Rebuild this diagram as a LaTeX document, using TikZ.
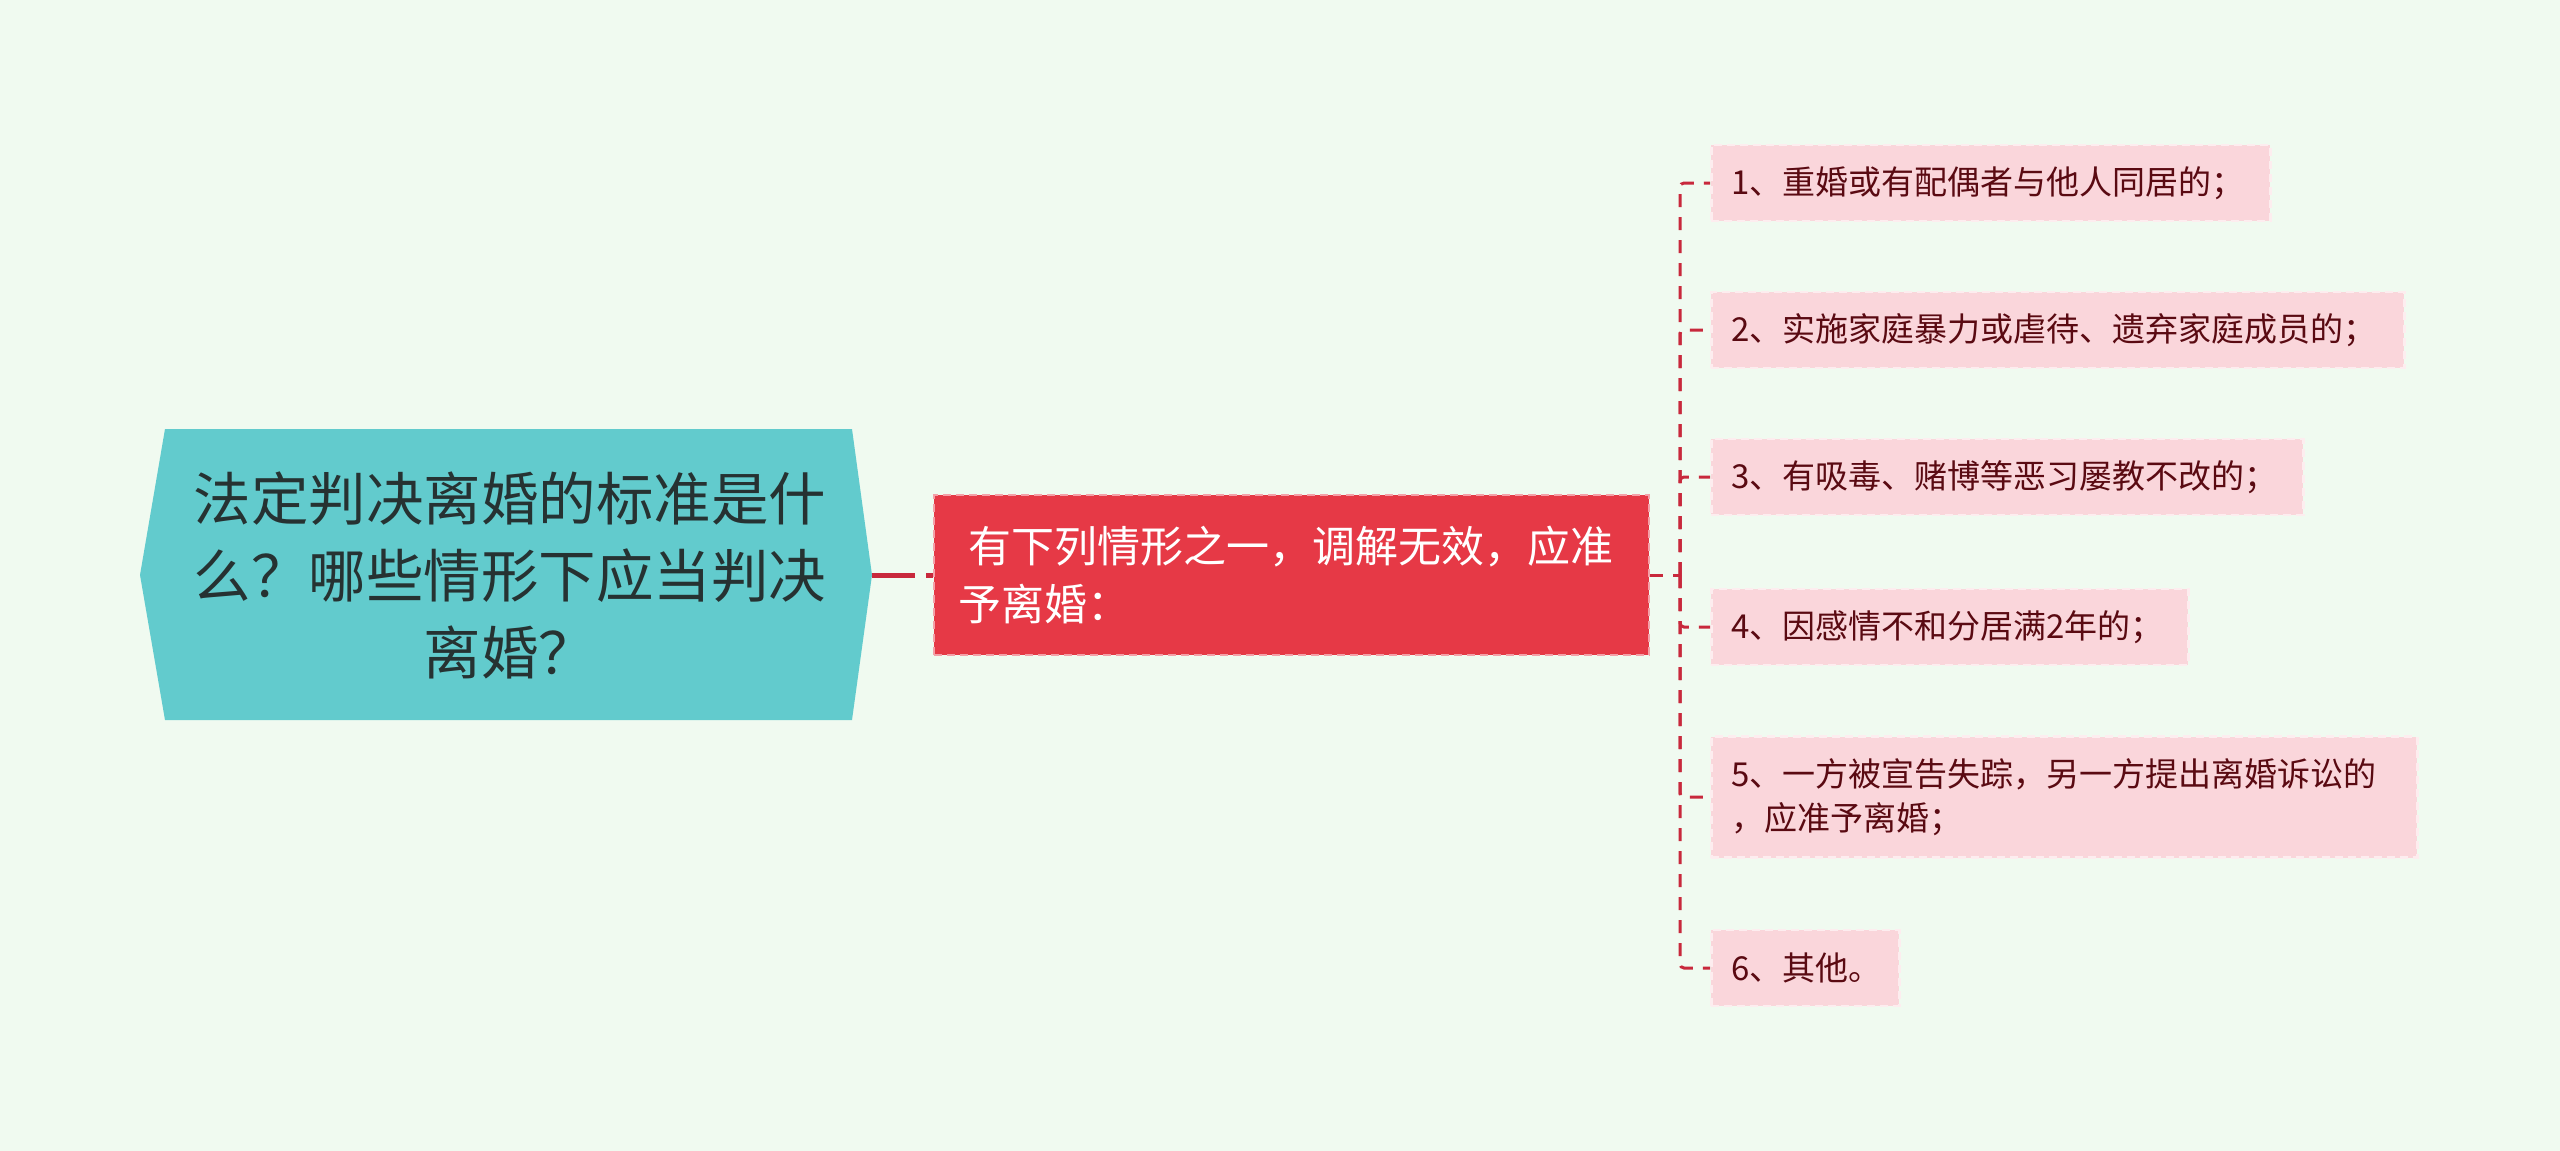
\documentclass[tikz,border=0pt]{standalone}
\usepackage{fontspec}
\setmainfont{Noto Sans CJK SC}
\definecolor{bgc}{HTML}{F0FAF0}
\definecolor{rootc}{HTML}{62CBCD}
\definecolor{roottxt}{HTML}{263232}
\definecolor{mainc}{HTML}{E63946}
\definecolor{mainborder}{HTML}{F4A0A8}
\definecolor{leafc}{HTML}{FAD6DB}
\definecolor{leafborder}{HTML}{FDEDEF}
\definecolor{leaftxt}{HTML}{5A0A12}
\definecolor{connc}{HTML}{C8283C}
\tikzset{
  roottext/.style={text=roottxt, align=center, font=\fontsize{57.5pt}{77pt}\selectfont, inner sep=0pt},
  mainbox/.style={fill=mainc, draw=mainborder, line width=2.5pt, dash pattern=on 8pt off 5pt,
    text=white, align=left, font=\fontsize{43pt}{58pt}\selectfont, inner xsep=24pt, inner ysep=0pt},
  leaf/.style={fill=leafc, draw=leafborder, line width=2.5pt, dash pattern=on 8pt off 5pt,
    text=leaftxt, align=left, font=\fontsize{33pt}{44pt}\selectfont, inner xsep=20pt, inner ysep=0pt,
    anchor=west, minimum height=76pt},
  mainconn/.style={draw=connc, line width=5pt, dash pattern=on 43pt off 11pt},
  conn/.style={draw=connc, line width=3pt, dash pattern=on 13pt off 10pt},
}
\begin{document}
\begin{tikzpicture}[x=1pt,y=-1pt]
\fill[bgc] (0,0) rectangle (2560,1151);
\useasboundingbox (0,0) rectangle (2560,1151);
% root
\fill[rootc] (140,575) -- (165,429) -- (852,429) -- (872,575) -- (852,720) -- (165,720) -- cycle;
\node[roottext] (root) at (510,575) {法定判决离婚的标准是什\\么？哪些情形下应当判决\\离婚？};
\coordinate (rootE) at (872,575);
% main
\node[mainbox, minimum width=715pt, minimum height=160pt, text width=667pt] (main) at (1291.5,575)
  {\hspace*{0.25em}有下列情形之一，调解无效，应准\\予离婚：};
% leaves
\node[leaf, text width=519pt] (l1) at (1710,183) {\mbox{1、重婚或有配偶者与他人同居的；}};
\node[leaf, text width=653pt] (l2) at (1710,330) {\mbox{2、实施家庭暴力或虐待、遗弃家庭成员的；}};
\node[leaf, text width=552pt] (l3) at (1710,477) {\mbox{3、有吸毒、赌博等恶习屡教不改的；}};
\node[leaf, text width=437pt] (l4) at (1710,627) {\mbox{4、因感情不和分居满2年的；}};
\node[leaf, text width=666pt, minimum height=121pt] (l5) at (1710,797) {\mbox{5、一方被宣告失踪，另一方提出离婚诉讼的}\\\mbox{，应准予离婚；}};
\node[leaf, text width=148pt] (l6) at (1710,968) {\mbox{6、其他。}};
% connectors
\draw[mainconn] (rootE) -- (main.west);
\coordinate (J) at (1680,575);
\draw[conn] (main.east) -- (J);
\foreach \i in {1,...,6}{
  \draw[conn, rounded corners=4pt] (J) |- (l\i.west);
}
\end{tikzpicture}
\end{document}
